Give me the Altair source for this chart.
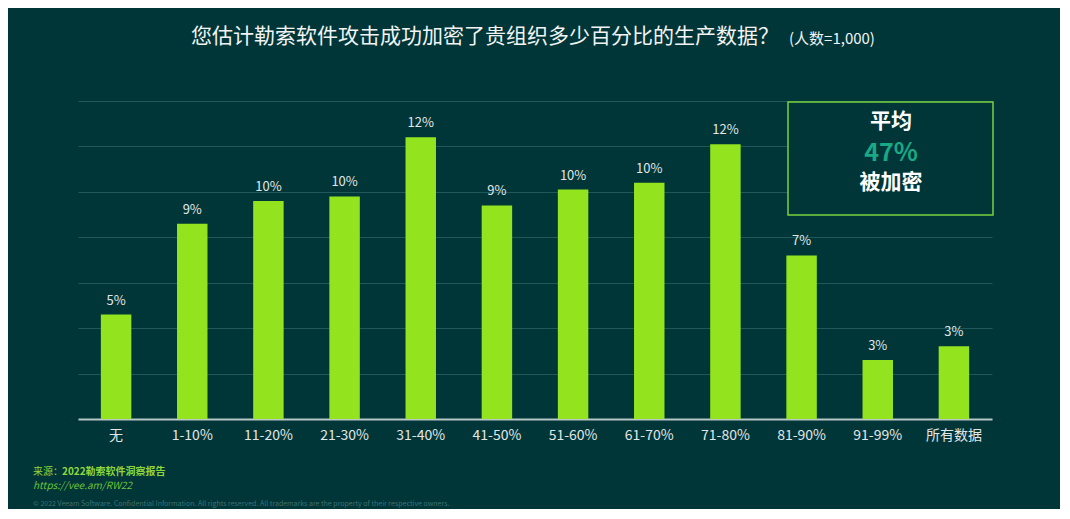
import altair as alt
import pandas as pd

categories = ["无", "1-10%", "11-20%", "21-30%", "31-40%", "41-50%", "51-60%",
              "61-70%", "71-80%", "81-90%", "91-99%", "所有数据"]
values = [4.6, 8.6, 9.6, 9.8, 12.4, 9.4, 10.1, 10.4, 12.1, 7.2, 2.6, 3.2]
labels = ["5%", "9%", "10%", "10%", "12%", "9%", "10%", "10%", "12%", "7%", "3%", "3%"]

title_main = "您估计勒索软件攻击成功加密了贵组织多少百分比的生产数据？"
title_note = "(人数=1,000)"
box_lines = ["平均", "47%", "被加密"]
source_label = "来源："
source_name = "2022勒索软件洞察报告"
source_url = "https://vee.am/RW22"
copyright_text = "© 2022 Veeam Software. Confidential Information. All rights reserved. All trademarks are the property of their respective owners."

FONT = "Noto Sans CJK SC"
BG = "#003638"
BAR = "#93e31e"
TXT = "#e2e6e6"

df = pd.DataFrame({"cat": categories, "val": values, "lab": labels})

base = alt.Chart(df)

bars = base.mark_bar(color=BAR).encode(
    x=alt.X("cat:N", sort=categories,
            scale=alt.Scale(paddingInner=0.6, paddingOuter=0.3),
            axis=alt.Axis(title=None, labelAngle=0, labelFontSize=14, labelColor=TXT,
                          labelFont=FONT, labelPadding=9, ticks=False,
                          domainColor="#b9c6c6", domainWidth=2, grid=False)),
    y=alt.Y("val:Q", scale=alt.Scale(domain=[0, 14], nice=False),
            axis=alt.Axis(title=None, labels=False, ticks=False, domain=False,
                          values=[0, 2, 4, 6, 8, 10, 12, 14],
                          gridColor="#1f5858", gridWidth=1)),
)

bar_labels = base.mark_text(dy=-14, fontSize=13, color=TXT, font=FONT).encode(
    x=alt.X("cat:N", sort=categories),
    y="val:Q",
    text="lab:N",
)

def txt(s, x, y, size, color, weight="normal", align="left", style="normal"):
    return alt.Chart(pd.DataFrame({"t": [s]})).mark_text(
        fontSize=size, color=color, fontWeight=weight, align=align,
        baseline="middle", font=FONT, fontStyle=style
    ).encode(text="t:N", x=alt.value(x), y=alt.value(y))

t1 = txt(title_main, 701, -64, 21, "#f2f4f4", align="right")
t2 = txt(title_note, 711, -62, 15, "#f2f4f4")

box = alt.Chart(pd.DataFrame({"a": [1]})).mark_rect(
    fill=BG, stroke="#78d23c", strokeWidth=1.5
).encode(x=alt.value(710), x2=alt.value(915), y=alt.value(1), y2=alt.value(114))

b1 = txt(box_lines[0], 813, 21, 21, "#ffffff", weight="bold", align="center")
b2 = txt(box_lines[1], 813, 52, 25, "#1aa886", weight="bold", align="center")
b3 = txt(box_lines[2], 813, 82, 21, "#ffffff", weight="bold", align="center")

f1 = txt(source_label, -45, 371, 10, "#8fd63a")
f2 = txt(source_name, -16, 371, 10, "#8fd63a", weight="bold")
f3 = txt(source_url, -45, 385, 10, "#6fc23a", style="italic")
f4 = txt(copyright_text, -45, 403, 7, "#3e7272")

chart = alt.layer(bars, bar_labels, t1, t2, box, b1, b2, b3, f1, f2, f3, f4).properties(
    width=914, height=318,
    background=BG,
    autosize=alt.AutoSizeParams(type="none"),
    padding={"left": 70, "top": 93, "right": 68, "bottom": 90},
).configure_view(stroke=None)

chart.save("out.html", embed_options={"renderer": "svg", "actions": False})
